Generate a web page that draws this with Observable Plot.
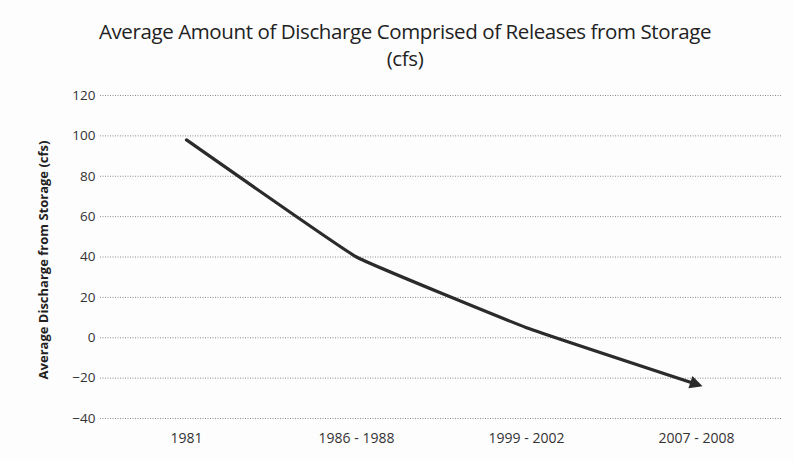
<!DOCTYPE html>
<html>
<head>
<meta charset="utf-8">
<script src="https://cdn.jsdelivr.net/npm/d3@7"></script>
<script src="https://cdn.jsdelivr.net/npm/@observablehq/plot@0.6"></script>
<style>
  html, body { margin: 0; padding: 0; background: #fff; }
  #wrap { width: 794px; height: 461px; position: relative; overflow: hidden; background: #fdfdfd; }
  #title { position: absolute; left: 0; top: 18px; width: 810px; text-align: center;
           font-family: "Open Sans", sans-serif; font-size: 20.5px; color: #222; line-height: 27px; letter-spacing: -0.4px; }
  #chart { position: absolute; left: 0; top: 0; }
</style>
</head>
<body>
<div id="wrap">
  <div id="chart"></div>
  <div id="title">Average Amount of Discharge Comprised of Releases from Storage<br>(cfs)</div>
</div>
<script>
const periods = ["1981", "1986 - 1988", "1999 - 2002", "2007 - 2008"];
const discharge = [98, 40, 5, -23];
const yTicks = [-40, -20, 0, 20, 40, 60, 80, 100, 120];

const data = periods.map((p, i) => ({period: p, value: discharge[i]}));

const chart = Plot.plot({
  width: 794,
  height: 461,
  marginTop: 95,
  marginBottom: 43,
  marginLeft: 100,
  marginRight: 12,
  style: {fontFamily: "Open Sans, sans-serif", fontSize: "13px", color: "#333", background: "transparent"},
  x: {type: "point", domain: periods, padding: 0.5, label: null},
  y: {domain: [-40, 120], ticks: yTicks, label: null},
  marks: [
    Plot.ruleY(yTicks, {stroke: "#8a8a8a", strokeWidth: 1, strokeDasharray: "1,1.5"}),
    Plot.axisX({tickSize: 0, tickPadding: 15, label: null, fontSize: 14}),
    Plot.axisY({ticks: yTicks, tickSize: 0, tickPadding: 5, label: null, fontSize: 13.5}),
    Plot.text(["Average Discharge from Storage (cfs)"], {
      frameAnchor: "left", textAnchor: "middle", dx: -57, dy: 3, rotate: -90,
      fontSize: 13, fontWeight: "bold", fill: "#222"
    }),
    Plot.line(data, {x: "period", y: "value", stroke: "#2b2b2b", strokeWidth: 3.2,
      curve: "cardinal", tension: 0.75, markerEnd: "arrow"})
  ]
});
document.getElementById("chart").appendChild(chart);
// turn the open arrow marker into a filled head
chart.querySelectorAll("marker").forEach(m => {
  m.setAttribute("fill", "#2b2b2b");
  m.setAttribute("stroke", "none");
  m.setAttribute("markerWidth", "5");
  m.setAttribute("markerHeight", "5");
  m.querySelectorAll("path").forEach(p => p.setAttribute("d", "M-4,-4L4,0L-4,4Z"));
});
</script>
</body>
</html>
